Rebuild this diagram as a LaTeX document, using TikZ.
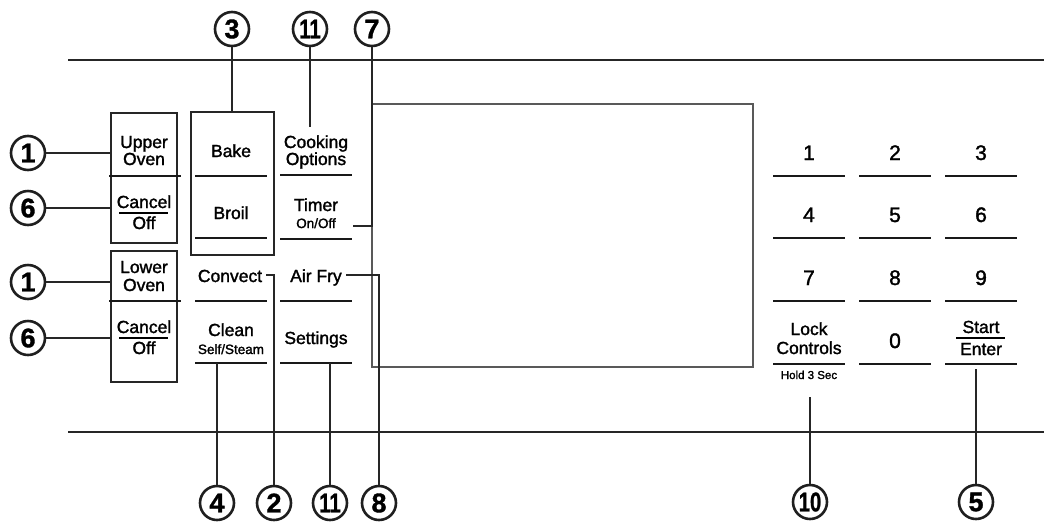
\documentclass[tikz,border=0pt]{standalone}
\usepackage{fontspec}
\setmainfont{Liberation Sans}
\newfontfamily\med[FakeBold=1.6]{Liberation Sans}
\newfontfamily\heavy[FakeBold=1.2]{Liberation Sans Bold}
\begin{document}
\begin{tikzpicture}[x=1pt,y=-1pt,
  txt/.style={inner sep=0, anchor=base, align=center, font=\med\fontsize{17.5}{19}\selectfont},
  small/.style={inner sep=0, anchor=base, font=\med\fontsize{13.5}{15}\selectfont},
  tiny/.style={inner sep=0, anchor=base, font=\med\fontsize{11.5}{13}\selectfont},
  key/.style={inner sep=0, anchor=base, font=\med\fontsize{21}{22}\selectfont},
  callout/.style={circle, draw=black!88, line width=2.6pt, minimum size=34pt, inner sep=0, font=\heavy\fontsize{27}{27}\selectfont},
  conn/.style={line width=2.6pt, draw=black!85},
  uline/.style={line width=2.4pt, draw=black!90},
  frame/.style={line width=2.8pt, draw=black!85},
  rule/.style={line width=1.6pt, draw=black!85},
  disp/.style={line width=1.2pt, draw=black!65}]
\useasboundingbox (0,0) rectangle (1044,523);
% horizontal rules and display
\draw[rule] (68,60) -- (1044,60);
\draw[rule] (68,432) -- (1044,432);
\draw[disp] (372,104) rectangle (753,367);

% left oven boxes
\draw[frame] (111,113) rectangle (177,243);
\draw[uline] (109,176) -- (181,176);
\draw[frame] (111,251) rectangle (177,382);
\draw[uline] (109,301) -- (181,301);
\node[txt] (upper) at (144,148) {Upper};
\node[txt] (oven1) at (144,165) {Oven};
\node[txt] (cancel1) at (144,208) {Cancel};
\draw[line width=1.8pt] (119,213) -- (168,213);
\node[txt] (off1) at (144,229) {Off};
\node[txt] (lower) at (144,273) {Lower};
\node[txt] (oven2) at (144,291) {Oven};
\node[txt] (cancel2) at (144,333) {Cancel};
\draw[line width=1.8pt] (119,338) -- (168,338);
\node[txt] (off2) at (144,354) {Off};

% bake / broil box
\draw[frame] (191,112) rectangle (274,255);
\draw[uline] (195,176) -- (267,176);
\draw[uline] (195,238) -- (267,238);
\node[txt] (bake) at (231,157) {Bake};
\node[txt] (broil) at (231,219) {Broil};

% middle column
\node[txt] (convect) at (230,282) {Convect};
\draw[uline] (195,301) -- (267,301);
\node[txt] (clean) at (231,336) {Clean};
\node[small] (selfsteam) at (231,354) {Self/Steam};
\draw[uline] (195,363) -- (267,363);

\node[txt] (cooking) at (316,148) {Cooking};
\node[txt] (options) at (316,165) {Options};
\draw[uline] (280,175) -- (352,175);
\node[txt] (timer) at (316,211) {Timer};
\node[small] (onoff) at (316,228) {On/Off};
\draw[uline] (280,239) -- (352,239);
\node[txt] (airfry) at (316,282) {Air Fry};
\draw[uline] (280,301) -- (352,301);
\node[txt] (settings) at (316,344) {Settings};
\draw[uline] (280,363) -- (352,363);

% keypad
\foreach \x in {809,895,981}{
  \foreach \yl in {176,238,301,364}{
    \draw[uline] (\x-36,\yl) -- (\x+36,\yl);
  }
}
\node[key] (k1) at (809,160) {1};
\node[key] (k2) at (895,160) {2};
\node[key] (k3) at (981,160) {3};
\node[key] (k4) at (809,222) {4};
\node[key] (k5) at (895,222) {5};
\node[key] (k6) at (981,222) {6};
\node[key] (k7) at (809,285) {7};
\node[key] (k8) at (895,285) {8};
\node[key] (k9) at (981,285) {9};
\node[key] (k0) at (895,348) {0};
\node[txt] (lock) at (809,335) {Lock};
\node[txt] (controls) at (809,354) {Controls};
\node[tiny] (hold) at (809,379) {Hold 3 Sec};
\node[txt] (start) at (981,333) {Start};
\draw[line width=1.8pt] (956,338) -- (1005,338);
\node[txt] (enter) at (981,355) {Enter};

% callout circles
\node[callout] (c1a) at (28,153) {1};
\node[callout] (c6a) at (28,208) {6};
\node[callout] (c1b) at (28,282) {1};
\node[callout] (c6b) at (28,338) {6};
\node[callout] (c3) at (232,29) {3};
\node[callout] (c11t) at (310,29) {\scalebox{0.75}[1]{11}};
\node[callout] (c7) at (372,29) {7};
\node[callout] (c4) at (217,503) {4};
\node[callout] (c2) at (274,503) {2};
\node[callout] (c11b) at (330,503) {\scalebox{0.75}[1]{11}};
\node[callout] (c8) at (379,503) {8};
\node[callout] (c10) at (810,502) {\scalebox{0.75}[1]{10}};
\node[callout] (c5) at (976,502) {5};

% connector endpoints
\coordinate (p1a) at (110,153);
\coordinate (p6a) at (110,208);
\coordinate (p1b) at (110,282);
\coordinate (p6b) at (110,338);
\coordinate (p3) at (232,112);
\coordinate (p11t) at (310,127);
\coordinate (p7) at (353,226);
\coordinate (p7c) at (372,226);
\coordinate (p8) at (346,275);
\coordinate (p8c) at (379,275);
\coordinate (p2) at (266,275);
\coordinate (p2c) at (274,275);
\coordinate (p4) at (217,363);
\coordinate (p11b) at (330,363);
\coordinate (p10) at (810,397);
\coordinate (p5) at (976,369);

% connectors
\draw[conn] (c1a) -- (p1a);
\draw[conn] (c6a) -- (p6a);
\draw[conn] (c1b) -- (p1b);
\draw[conn] (c6b) -- (p6b);
\draw[conn] (c3) -- (p3);
\draw[conn] (c11t) -- (p11t);
\draw[conn] (c7) -- (p7c) -- (p7);
\draw[conn] (p8) -- (p8c) -- (c8);
\draw[conn] (p2) -- (p2c) -- (c2);
\draw[conn] (p4) -- (c4);
\draw[conn] (p11b) -- (c11b);
\draw[conn] (p10) -- (c10);
\draw[conn] (p5) -- (c5);
\end{tikzpicture}
\end{document}
